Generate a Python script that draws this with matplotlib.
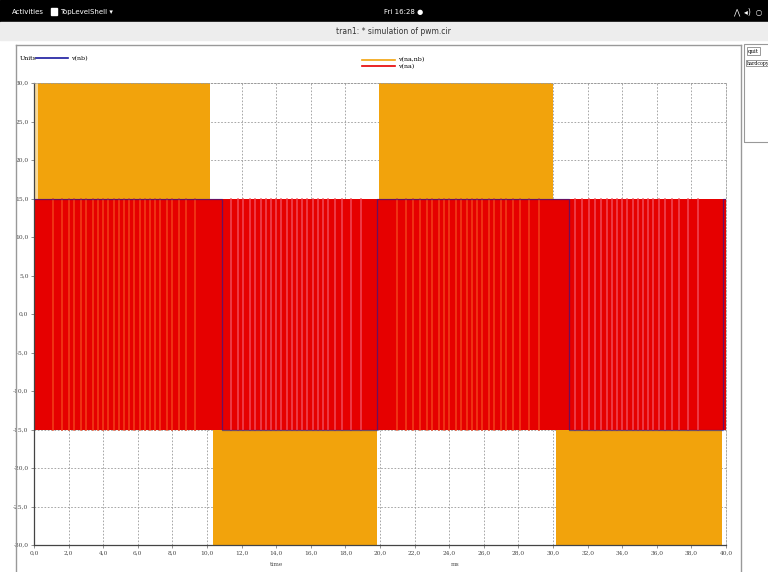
import matplotlib
matplotlib.use("Agg")
import matplotlib.pyplot as plt
from matplotlib.patches import Rectangle

# ---------------- data ----------------
# v(na,nb): PWM envelope bands (start ms, end ms, low V, high V)
vnanb_start = [0.25, 10.35, 19.95, 30.2]
vnanb_end = [10.15, 19.85, 30.0, 39.75]
vnanb_low = [0.0, -30.0, 0.0, -30.0]
vnanb_high = [30.0, 0.0, 30.0, 0.0]

# v(na): switching between -15 and +15 over the whole run
vna_time = [0.0, 40.0]
vna_low = [-15.0, -15.0]
vna_high = [15.0, 15.0]
# lighter pulse stripes visible inside the v(na) band (ms)
vna_stripes_a = [1.1, 1.6, 2.0, 2.3, 2.7, 3.0, 3.4, 3.7, 4.0, 4.3, 4.6, 4.9, 5.2,
                 5.5, 5.8, 6.1, 6.4, 6.7, 7.0, 7.3, 7.7, 8.0, 8.4, 8.8, 9.3,
                 21.0, 21.5, 21.9, 22.3, 22.7, 23.0, 23.4, 23.7, 24.0, 24.4, 24.7,
                 25.0, 25.3, 25.6, 25.9, 26.3, 26.6, 27.0, 27.3, 27.7, 28.1, 28.6, 29.2]
vna_stripes_b = [11.4, 11.8, 12.1, 12.5, 12.8, 13.1, 13.4, 13.7, 14.0, 14.3, 14.6,
                 14.9, 15.2, 15.5, 15.8, 16.1, 16.4, 16.7, 17.0, 17.4, 17.8, 18.3, 18.9,
                 31.3, 31.7, 32.1, 32.4, 32.8, 33.1, 33.4, 33.7, 34.0, 34.3, 34.6,
                 34.9, 35.2, 35.5, 35.8, 36.1, 36.5, 36.9, 37.3, 37.8, 38.4]

# v(nb): slow square wave, mostly hidden under v(na)
vnb_time = [0.0, 10.85, 10.85, 19.8, 19.8, 30.9, 30.9, 39.8, 39.8, 40.0]
vnb_val = [15.0, 15.0, -15.0, -15.0, 15.0, 15.0, -15.0, -15.0, 15.0, 15.0]

xticks = [0, 2, 4, 6, 8, 10, 12, 14, 16, 18, 20, 22, 24, 26, 28, 30, 32, 34, 36, 38, 40]
yticks = [-30, -25, -20, -15, -10, -5, 0, 5, 10, 15, 20, 25, 30]

ORANGE = "#f2a30c"
RED = "#e60000"
BLUE = "#1a1aa0"

W, H = 768, 572
fig = plt.figure(figsize=(W / 100, H / 100), dpi=100)
fig.patch.set_facecolor("white")

def fx(px):
    return px / W

def fy(py):
    return 1 - py / H

# ---------------- window chrome ----------------
fig.add_artist(Rectangle((0, fy(22)), 1, 22 / H, transform=fig.transFigure,
                         color="black", zorder=0))
fig.text(fx(12), fy(12), "Activities", color="white", fontsize=5, va="center")
fig.add_artist(Rectangle((fx(51), fy(15)), 6 / W, 7 / H, transform=fig.transFigure,
                         color="white", zorder=1))
fig.text(fx(60), fy(12), "TopLevelShell \u25be", color="white", fontsize=5, va="center")
fig.text(fx(404), fy(12), "Fri 16:28 \u25cf", color="white", fontsize=5,
         va="center", ha="center")
fig.text(fx(762), fy(12), "\u22c0  \u25c2)  \u25cb", color="white", fontsize=5.5,
         va="center", ha="right")
fig.add_artist(Rectangle((0, fy(40)), 1, 18 / H, transform=fig.transFigure,
                         color="#ededed", zorder=0))
fig.text(fx(393), fy(31), "tran1: * simulation of pwm.cir", color="#333333",
         fontsize=5.5, va="center", ha="center")
# plot window frame
fig.add_artist(plt.Line2D([fx(16), fx(16)], [fy(45), 0], transform=fig.transFigure,
                          color="#999999", lw=1.0))
fig.add_artist(plt.Line2D([fx(16), fx(741)], [fy(45), fy(45)], transform=fig.transFigure,
                          color="#999999", lw=1.0))
fig.add_artist(plt.Line2D([fx(741), fx(741)], [fy(45), 0], transform=fig.transFigure,
                          color="#999999", lw=1.0))
fig.add_artist(Rectangle((fx(744), fy(142)), 30 / W, 98 / H, transform=fig.transFigure,
                         fill=False, ec="#999999", lw=0.8))
fig.text(fx(748), fy(51), "quit", fontsize=4, va="center", family="DejaVu Serif",
         bbox=dict(boxstyle="square,pad=0.2", fc="white", ec="#888888", lw=0.6))
fig.text(fx(747), fy(63), "hardcopy", fontsize=3.3, va="center", family="DejaVu Serif",
         bbox=dict(boxstyle="square,pad=0.2", fc="white", ec="#888888", lw=0.6))

# ---------------- legend ----------------
fig.text(fx(20), fy(59), "Units", fontsize=4.5, va="center", family="DejaVu Serif")
fig.add_artist(plt.Line2D([fx(36), fx(68)], [fy(58), fy(58)], transform=fig.transFigure,
                          color=BLUE, lw=1.2))
fig.text(fx(71), fy(58.5), "v(nb)", fontsize=4.5, va="center", family="DejaVu Serif")
fig.add_artist(plt.Line2D([fx(362), fx(395)], [fy(60), fy(60)], transform=fig.transFigure,
                          color=ORANGE, lw=1.2))
fig.text(fx(398), fy(60), "v(na,nb)", fontsize=4.5, va="center", family="DejaVu Serif")
fig.add_artist(plt.Line2D([fx(362), fx(395)], [fy(66), fy(66)], transform=fig.transFigure,
                          color=RED, lw=1.2))
fig.text(fx(398), fy(66.5), "v(na)", fontsize=4.5, va="center", family="DejaVu Serif")

# ---------------- axes ----------------
ax = fig.add_axes([fx(34), fy(545), (726 - 34) / W, (545 - 83) / H])
ax.set_xlim(0, 40)
ax.set_ylim(-30, 30)
ax.set_facecolor("white")

# leading pale sliver
ax.fill_between([0.05, 0.25], [15, 15], [30, 30], color="#f7d99a", lw=0, zorder=1)
for s, e, lo, hi in zip(vnanb_start, vnanb_end, vnanb_low, vnanb_high):
    ax.fill_between([s, e], [lo, lo], [hi, hi], color=ORANGE, lw=0, zorder=1)

ax.fill_between(vna_time, vna_low, vna_high, color=RED, lw=0, zorder=2)
for t in vna_stripes_a:
    ax.axvline(t, ymin=0.25, ymax=0.75, color="#f2401a", lw=1.1, zorder=3)
for t in vna_stripes_b:
    ax.axvline(t, ymin=0.25, ymax=0.75, color="#f04a58", lw=1.1, zorder=3)

ax.plot(vnb_time, vnb_val, color=BLUE, lw=0.9, alpha=0.6, zorder=4)

ax.set_xticks(xticks)
ax.set_yticks(yticks)
ax.set_xticklabels([f"{v:.1f}".replace(".", ",") for v in xticks],
                   fontsize=4.2, family="DejaVu Serif", color="#444444")
ax.set_yticklabels([f"{v:.1f}".replace(".", ",") for v in yticks],
                   fontsize=4.2, family="DejaVu Serif", color="#444444")
ax.tick_params(length=2, width=0.5, color="#666666", pad=2)
ax.grid(True, linestyle=(0, (2, 2)), color="#999999", lw=0.6, zorder=0)
ax.set_axisbelow(True)
for side in ["top", "right"]:
    ax.spines[side].set_linestyle((0, (2, 2)))
    ax.spines[side].set_color("#999999")
    ax.spines[side].set_linewidth(0.6)
for side in ["left", "bottom"]:
    ax.spines[side].set_color("#444444")
    ax.spines[side].set_linewidth(0.9)

fig.text(fx(276), fy(565), "time", fontsize=4.2, family="DejaVu Serif",
         color="#444444", ha="center", va="center")
fig.text(fx(455), fy(565), "ms", fontsize=4.2, family="DejaVu Serif",
         color="#444444", ha="center", va="center")

fig.savefig("out.png", dpi=100)
